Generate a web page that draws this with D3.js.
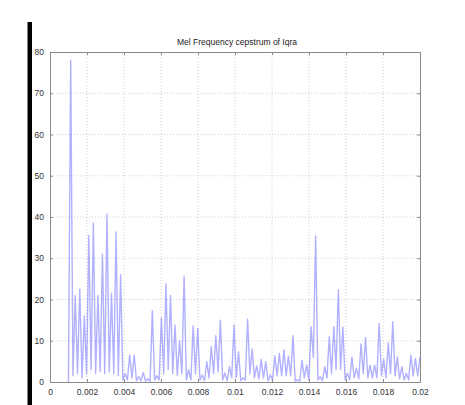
<!DOCTYPE html>
<html>
<head>
<meta charset="utf-8">
<script src="https://cdn.jsdelivr.net/npm/d3@7"></script>
<style>
  html, body { margin: 0; padding: 0; background: #fff; }
  svg { display: block; }
</style>
</head>
<body>
<svg id="chart" width="465" height="405"></svg>
<script>
// Cepstral peaks (one per pitch period) and the valleys that precede each peak
const peakValues = [78, 21, 22.5, 16, 35.5, 38.5, 21, 31, 40.7, 21.5, 36.4, 26,
  2, 6.5, 6.5, 1.3, 2.3, 0.8, 17.3, 1.5, 15.5, 23.8, 21, 13.8, 10, 25.7, 3, 13.6,
  13, 1.7, 4.9, 8.6, 11.2, 15, 2.2, 3.7, 13.8, 7.3, 1, 15.2, 8, 3.9, 5.5, 4.9,
  1.7, 6.3, 6.9, 7.8, 6.3, 11.2, 0.5, 5.3, 4.1, 13.4, 35.4, 1.3, 3.7, 11, 13.4,
  22.4, 13.3, 2.1, 6, 3.3, 9.2, 10.8, 4.1, 4.1, 14.2, 5.5, 9.5, 14.6, 6.1, 3.7,
  2.1, 6.5, 5.7, 6.1];
const valleyValues = [0, 1.5, 2, 1, 2, 3, 2, 2.5, 2, 2.5, 2, 1.5, 0.5, 0.5, 1,
  0.3, 0.3, 0.2, 0.2, 0.5, 0.5, 2, 3, 2, 1.5, 2, 0.5, 0.5, 2, 0.5, 0.3, 1, 2, 2.5,
  0.5, 0.3, 1, 1, 0.3, 0.5, 2, 1, 0.8, 1, 0.3, 0.5, 1.5, 1.5, 1.5, 1.5, 0.2, 0.2,
  1, 0.5, 6, 0.5, 0.3, 1, 2, 3, 3, 0.5, 0.5, 1, 0.8, 2, 1, 1, 1, 1.5, 1, 2, 1.5,
  0.8, 0.5, 0.5, 1.5, 1.5];

// Sample grid of the plotted quefrency axis (seconds)
const quefrencyStart = 0.000996;
const quefrencyStep = 0.0001226;

const xTicks = [0, 0.002, 0.004, 0.006, 0.008, 0.01, 0.012, 0.014, 0.016, 0.018, 0.02];
const yTicks = [0, 10, 20, 30, 40, 50, 60, 70, 80];
const titleText = "Mel Frequency cepstrum of Iqra";

// Interleave valley / peak samples into one sampled trace
const samples = [];
valleyValues.forEach((v, i) => {
  samples.push(v);
  samples.push(peakValues[i]);
});
const trace = samples.map((v, i) => ({ q: quefrencyStart + i * quefrencyStep, v }));

const svg = d3.select("#chart");
const m = { left: 50, right: 420, top: 52, bottom: 382 };

const x = d3.scaleLinear().domain([0, 0.02]).range([m.left, m.right]);
const y = d3.scaleLinear().domain([0, 80]).range([m.bottom, m.top]);

// Black bar along the left edge of the figure
svg.append("rect")
  .attr("x", 27.5).attr("y", 22).attr("width", 4.5).attr("height", 383)
  .attr("fill", "#000");

// Dotted grid
const grid = svg.append("g").attr("stroke", "#c4c4c4").attr("stroke-width", 0.8)
  .attr("stroke-dasharray", "1,2");
grid.selectAll("line.gx").data(xTicks.slice(1, -1)).join("line")
  .attr("x1", d => x(d)).attr("x2", d => x(d))
  .attr("y1", m.top).attr("y2", m.bottom);
grid.selectAll("line.gy").data(yTicks.slice(1, -1)).join("line")
  .attr("x1", m.left).attr("x2", m.right)
  .attr("y1", d => y(d)).attr("y2", d => y(d));

// Cepstrum trace
svg.append("path")
  .datum(trace)
  .attr("fill", "none")
  .attr("stroke", "#4444ff")
  .attr("stroke-opacity", 0.42)
  .attr("stroke-width", 1.4)
  .attr("stroke-linejoin", "round")
  .attr("d", d3.line().x(d => x(d.q)).y(d => y(d.v)));

// Axes (ticks pointing inward, on all four sides)
const fmtX = d => d === 0 ? "0" : String(+d.toFixed(3));
const axisStyle = g => {
  g.select(".domain").attr("stroke", "#8a8a8a");
  g.selectAll(".tick line").attr("stroke", "#8a8a8a");
  g.selectAll("text").attr("fill", "#333").attr("font-family", "Liberation Sans, Arial, sans-serif")
    .attr("font-size", "8.5px");
};

svg.append("g").attr("transform", `translate(0,${m.bottom})`)
  .call(d3.axisBottom(x).tickValues(xTicks).tickFormat(fmtX).tickSizeInner(-3).tickSizeOuter(0).tickPadding(7))
  .call(axisStyle);
svg.append("g").attr("transform", `translate(0,${m.top})`)
  .call(d3.axisTop(x).tickValues(xTicks).tickFormat("").tickSizeInner(-3).tickSizeOuter(0))
  .call(axisStyle);
svg.append("g").attr("transform", `translate(${m.left},0)`)
  .call(d3.axisLeft(y).tickValues(yTicks).tickSizeInner(-3).tickSizeOuter(0).tickPadding(6))
  .call(axisStyle);
svg.append("g").attr("transform", `translate(${m.right},0)`)
  .call(d3.axisRight(y).tickValues(yTicks).tickFormat("").tickSizeInner(-3).tickSizeOuter(0))
  .call(axisStyle);

// Title
svg.append("text")
  .attr("x", (m.left + m.right) / 2 + 2).attr("y", 45)
  .attr("text-anchor", "middle")
  .attr("font-family", "Liberation Sans, Arial, sans-serif")
  .attr("font-size", "8.5px")
  .attr("fill", "#222")
  .text(titleText);
</script>
</body>
</html>
